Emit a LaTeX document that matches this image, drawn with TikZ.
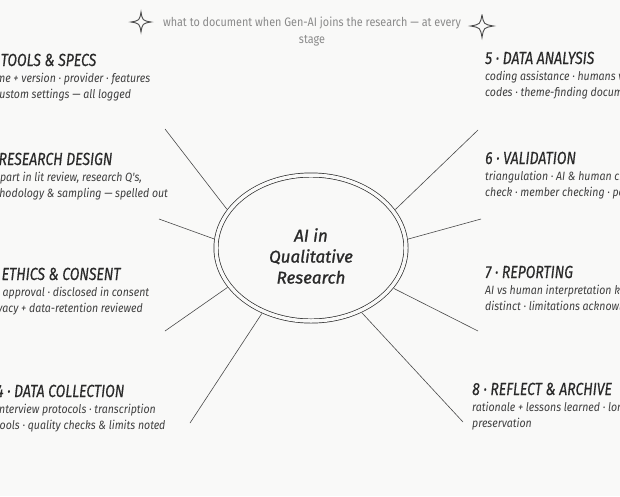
\documentclass[tikz,border=0pt]{standalone}
\usepackage{fontspec}
\setmainfont{Fira Sans}
\newfontfamily\handtitle[FakeStretch=0.8, FakeBold=0.4]{Fira Sans}
\newfontfamily\handbody[FakeStretch=0.88]{Fira Sans}
\newfontfamily\handhub[FakeBold=1.2]{Fira Sans}
\usepackage{xcolor}
\usepackage{tikz}
\usetikzlibrary{shapes.geometric, positioning}
\definecolor{ink}{HTML}{2A2A2A}
\definecolor{paper}{HTML}{F9F9F8}
\tikzset{
    steptitle/.style={anchor=base west, inner sep=0pt, text depth=0pt, text=ink, font=\handtitle\itshape\fontsize{17.5}{17.5}\selectfont},
    stepbody/.style={below right=7pt and 0pt of #1, inner sep=0pt, align=left, text=ink!90, font=\handbody\itshape\fontsize{12}{16}\selectfont},
    hub/.style={ellipse, draw=ink, line width=0.7pt, double=paper, double distance=3.5pt, minimum width=190pt, minimum height=146pt, inner sep=0pt},
    spoke/.style={draw=ink!85, line width=0.6pt, shorten <=2.5pt},
    sparkle/.pic={\draw[ink!85, line width=0.9pt] (0,-10) .. controls (1.5,-1.5) .. (10,0) .. controls (1.5,1.5) .. (0,10) .. controls (-1.5,1.5) .. (-10,0) .. controls (-1.5,-1.5) .. cycle;}
}

\begin{document}
\begin{tikzpicture}[x=1pt, y=-1pt]
    \useasboundingbox (0,0) rectangle (620,496);
    \fill[paper] (0,0) rectangle (620,496);
    \clip (0,0) rectangle (620,496);

    % header
    \pic at (141,22) {sparkle};
    \pic [scale=1.15] at (482,26) {sparkle};
    \node (head) [inner sep=0pt, align=center, text=ink!55, font=\handbody\fontsize{12.3}{17}\selectfont] at (312,32) {what to document when Gen-AI joins the research — at every\\stage};

    % hub
    \node (hub) [hub] at (311,248) {};
    \node (hubtext) [align=center, inner sep=0pt, text=ink, font=\handhub\itshape\fontsize{17}{21}\selectfont] at ([yshift=-8pt]hub.center) {AI in\\Qualitative\\Research};

    % left steps
    \node (t1) [steptitle] at (-16,66) {1 · TOOLS \& SPECS};
    \node (d1) [stepbody=t1.south west] {name + version · provider · features\\\& custom settings — all logged};
    \node (t2) [steptitle] at (-19,165) {2 · RESEARCH DESIGN};
    \node (d2) [stepbody=t2.south west] {AI's part in lit review, research Q's,\\methodology \& sampling — spelled out};
    \node (t3) [steptitle] at (-16,280) {3 · ETHICS \& CONSENT};
    \node (d3) [stepbody=t3.south west] {IRB approval · disclosed in consent\\privacy + data-retention reviewed};
    \node (t4) [steptitle] at (-4,397) {4 · DATA COLLECTION};
    \node (d4) [stepbody=t4.south west] {interview protocols · transcription\\tools · quality checks \& limits noted};

    % right steps
    \node (t5) [steptitle] at (485,64) {5 · DATA ANALYSIS};
    \node (d5) [stepbody=t5.south west] {coding assistance · humans verify\\codes · theme-finding documented};
    \node (t6) [steptitle] at (485,164) {6 · VALIDATION};
    \node (d6) [stepbody=t6.south west] {triangulation · AI \& human cross-\\check · member checking · peer debrief};
    \node (t7) [steptitle] at (485,278) {7 · REPORTING};
    \node (d7) [stepbody=t7.south west] {AI vs human interpretation kept\\distinct · limitations acknowledged};
    \node (t8) [steptitle] at (472,395) {8 · REFLECT \& ARCHIVE};
    \node (d8) [stepbody=t8.south west] {rationale + lessons learned · long-term\\preservation};

    % spokes
    \coordinate (s1) at (165,129);
    \coordinate (s2) at (159,219);
    \coordinate (s3) at (165,331);
    \coordinate (s4) at (190,423);
    \coordinate (s5) at (478,130);
    \coordinate (s6) at (481,219);
    \coordinate (s7) at (478,331);
    \coordinate (s8) at (463,422);
    \draw [spoke] (hub.156) -- (s1);
    \draw [spoke] (hub.175) -- (s2);
    \draw [spoke] (hub.205) -- (s3);
    \draw [spoke] (hub.233) -- (s4);
    \draw [spoke] (hub.24) -- (s5);
    \draw [spoke] (hub.5) -- (s6);
    \draw [spoke] (hub.334) -- (s7);
    \draw [spoke] (hub.308) -- (s8);
\end{tikzpicture}
\end{document}
